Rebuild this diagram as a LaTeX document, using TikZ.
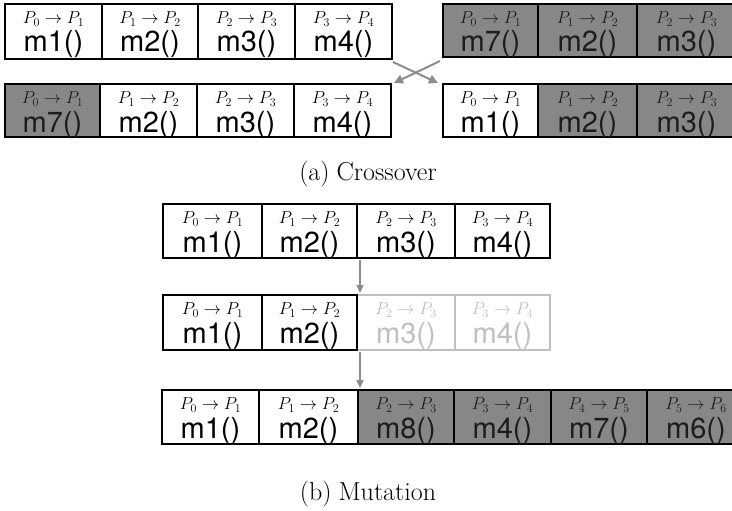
\documentclass[tikz,border=0pt]{standalone}
\usepackage{fontspec}
\newfontfamily\herosf{TeX Gyre Heros}
\usetikzlibrary{arrows.meta}
\definecolor{cdark}{RGB}{135,135,135}
\definecolor{cfaint}{RGB}{192,192,192}
\definecolor{carrow}{RGB}{140,140,140}
\definecolor{ctext}{RGB}{28,28,28}
\tikzset{
  cellbox/.style={draw=black, line width=1.8pt, inner sep=0pt, outer sep=0pt},
  wcell/.style={cellbox, fill=white},
  dcell/.style={cellbox, fill=cdark},
  fcell/.style={draw=cfaint, line width=1.2pt, fill=white, inner sep=0pt, outer sep=0pt},
  wcelltxt/.style={text=black},
  dcelltxt/.style={text=ctext},
  fcelltxt/.style={text=cfaint},
  ptxt/.style={inner sep=0pt, anchor=base, font=\fontsize{18}{18}\selectfont},
  mtxt/.style={inner sep=0pt, anchor=base, font=\herosf\fontsize{29}{29}\selectfont},
  xarrow/.style={draw=carrow, line width=2pt, -{Triangle[length=9pt,width=9pt]}},
  varrow/.style={draw=carrow, line width=1.5pt, -{Triangle[length=8pt,width=7pt]}},
  captxt/.style={inner sep=0pt, font=\fontsize{26}{26}\selectfont}
}
\newcommand\gene[8]{%
  \node[#6, minimum width={(#4)-(#2)}, minimum height={(#5)-(#3)}] (#1) at ({(#2+#4)/2},{(#3+#5)/2}) {};
  \node[ptxt, #6txt] (#1p) at ({(#2+#4)/2},{#3+19.5}) {$#7$};
  \node[mtxt, #6txt] (#1m) at ({(#2+#4)/2},{#3+48}) {#8};
}
\begin{document}
\begin{tikzpicture}[x=1pt,y=-1pt]
\useasboundingbox (0,0) rectangle (732,511);
\clip (0,0) rectangle (732,511);
% Crossover, left top
\gene{lta}{5}{4}{102}{59}{wcell}{P_0\to P_1}{m1()}
\gene{ltb}{102}{4}{198}{59}{wcell}{P_1\to P_2}{m2()}
\gene{ltc}{198}{4}{295}{59}{wcell}{P_2\to P_3}{m3()}
\gene{ltd}{295}{4}{392}{59}{wcell}{P_3\to P_4}{m4()}
% left bottom
\gene{lba}{5}{84}{100}{137}{dcell}{P_0\to P_1}{m7()}
\gene{lbb}{100}{84}{197}{137}{wcell}{P_1\to P_2}{m2()}
\gene{lbc}{197}{84}{294}{137}{wcell}{P_2\to P_3}{m3()}
\gene{lbd}{294}{84}{391}{137}{wcell}{P_3\to P_4}{m4()}
% right top
\gene{rta}{443}{4}{538}{57}{dcell}{P_0\to P_1}{m7()}
\gene{rtb}{538}{4}{637}{57}{dcell}{P_1\to P_2}{m2()}
\gene{rtc}{637}{4}{736}{57}{dcell}{P_2\to P_3}{m3()}
% right bottom
\gene{rba}{443}{84}{538}{137}{wcell}{P_0\to P_1}{m1()}
\gene{rbb}{538}{84}{637}{137}{dcell}{P_1\to P_2}{m2()}
\gene{rbc}{637}{84}{736}{137}{dcell}{P_2\to P_3}{m3()}
% crossing arrows
\draw[xarrow] ([shift={(1,3)}]ltd.south east) -- ([shift={(-5,-1)}]rba.north west);
\draw[xarrow] ([shift={(-3,4)}]rta.south west) -- ([shift={(3,-1)}]lbd.north east);
\node[captxt] (capa) at (368,174) {(a)\hspace{7pt}Crossover};
% Mutation row 1
\gene{maa}{163}{204}{262}{258}{wcell}{P_0\to P_1}{m1()}
\gene{mab}{262}{204}{357}{258}{wcell}{P_1\to P_2}{m2()}
\gene{mac}{357}{204}{455}{258}{wcell}{P_2\to P_3}{m3()}
\gene{mad}{455}{204}{550}{258}{wcell}{P_3\to P_4}{m4()}
% row 2
\gene{mbc}{357}{295}{455}{350}{fcell}{P_2\to P_3}{m3()}
\gene{mbd}{455}{295}{550}{350}{fcell}{P_3\to P_4}{m4()}
\gene{mba}{163}{295}{262}{350}{wcell}{P_0\to P_1}{m1()}
\gene{mbb}{262}{295}{357}{350}{wcell}{P_1\to P_2}{m2()}
% row 3
\gene{mca}{162}{390}{259}{444}{wcell}{P_0\to P_1}{m1()}
\gene{mcb}{259}{390}{358}{444}{wcell}{P_1\to P_2}{m2()}
\gene{mcc}{358}{390}{454}{444}{dcell}{P_2\to P_3}{m8()}
\gene{mcd}{454}{390}{551}{444}{dcell}{P_3\to P_4}{m4()}
\gene{mce}{551}{390}{647}{444}{dcell}{P_4\to P_5}{m7()}
\gene{mcf}{647}{390}{745}{444}{dcell}{P_5\to P_6}{m6()}
% vertical arrows
\draw[varrow] ([shift={(3,2)}]mac.south west) -- ([shift={(3,-2)}]mbc.north west);
\draw[varrow] ([shift={(3,2)}]mbc.south west) -- ([shift={(2,-2)}]mcc.north west);
\node[captxt] (capb) at (368,494) {(b)\hspace{7pt}Mutation};
\end{tikzpicture}
\end{document}
